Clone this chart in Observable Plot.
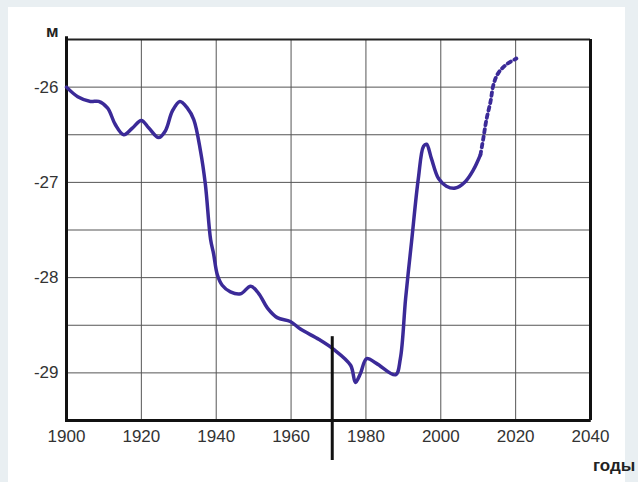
<!DOCTYPE html>
<html>
<head>
<meta charset="utf-8">
<script src="https://cdn.jsdelivr.net/npm/d3@7"></script>
<script src="https://cdn.jsdelivr.net/npm/@observablehq/plot@0.6"></script>
<style>
  html, body { margin: 0; padding: 0; background: #e9eff2; }
  #wrap { position: relative; width: 638px; height: 482px; overflow: hidden; }
  #panel { position: absolute; left: 8px; top: 7px; width: 617px; height: 475px; background: #ffffff; }
  #chart { position: absolute; left: 0; top: 0; }
  .lbl { position: absolute; font-family: "Liberation Sans", Arial, sans-serif; font-weight: bold; font-size: 17px; line-height: 17px; color: #222; white-space: nowrap; }
</style>
</head>
<body>
<div id="wrap">
  <div id="panel"></div>
  <div id="chart"></div>
  <span class="lbl" style="left:46px; top:23px;">м</span>
  <span class="lbl" style="left:593px; top:457px;">годы</span>
</div>
<script>
// Observed level of the sea (m) by year
const years = [1900, 1903, 1906.4, 1908.6, 1911, 1913, 1915.3, 1917.6, 1920, 1922, 1924.6, 1926.4, 1928.3, 1930.3, 1932.3, 1934, 1935.8, 1937.1, 1938.5, 1939.3, 1940.3, 1941.6, 1943.8, 1946.5, 1949.2, 1951.4, 1953.7, 1956.3, 1959.8, 1962.5, 1967.5, 1971.3, 1975.9, 1977.2, 1978.5, 1980.2, 1982.8, 1987.9, 1989.2, 1990.6, 1992.2, 1994, 1995.4, 1996.2, 1997.5, 1999.4, 2001.5, 2003.9, 2006.6, 2008.7, 2010.6];
const levels = [-26.0, -26.1, -26.15, -26.15, -26.22, -26.39, -26.5, -26.43, -26.35, -26.43, -26.53, -26.46, -26.25, -26.15, -26.22, -26.34, -26.67, -27.02, -27.6, -27.75, -27.97, -28.08, -28.15, -28.17, -28.09, -28.17, -28.32, -28.42, -28.46, -28.54, -28.65, -28.75, -28.92, -29.1, -29.01, -28.85, -28.9, -29.02, -28.85, -28.22, -27.62, -26.96, -26.62, -26.6, -26.75, -26.96, -27.04, -27.06, -26.99, -26.87, -26.71];
// Forecast (dotted)
const forecastYears = [2010.6, 2011.4, 2012.2, 2013.3, 2014.1, 2015.4, 2017.6, 2020.2];
const forecastLevels = [-26.71, -26.53, -26.34, -26.15, -25.97, -25.85, -25.76, -25.7];
// Axis ticks
const xTicks = [1900, 1920, 1940, 1960, 1980, 2000, 2020, 2040];
const yTicks = [-26, -27, -28, -29];
const yGrid = [-29, -28.5, -28, -27.5, -27, -26.5, -26];
const markerYear = 1971;

const observed = years.map((y, i) => ({year: y, level: levels[i]}));
const forecast = forecastYears.map((y, i) => ({year: y, level: forecastLevels[i]}));

const lineColor = "#3b2a98";

const chart = Plot.plot({
  width: 638,
  height: 482,
  marginLeft: 66,
  marginRight: 48,
  marginTop: 39,
  marginBottom: 62,
  style: {background: "transparent", fontFamily: "'Liberation Sans', Arial, sans-serif", fontSize: "17px", color: "#333", overflow: "visible"},
  x: {domain: [1900, 2040], ticks: xTicks, tickFormat: d => String(d), tickSize: 0, tickPadding: 9, label: null},
  y: {domain: [-29.5, -25.5], ticks: yTicks, tickFormat: d => String(d), tickSize: 0, tickPadding: 8, label: null},
  marks: [
    Plot.gridX(xTicks.slice(1, -1), {stroke: "#555", strokeOpacity: 1, strokeWidth: 1}),
    Plot.gridY(yGrid, {stroke: "#555", strokeOpacity: 1, strokeWidth: 1}),
    Plot.ruleY([-25.5], {stroke: "#222", strokeWidth: 2}),
    Plot.ruleX([2040], {stroke: "#111", strokeWidth: 3, y1: -29.5, y2: -25.5}),
    Plot.ruleY([-29.5], {stroke: "#111", strokeWidth: 3, x1: 1900, x2: 2040.2}),
    Plot.ruleX([1900], {stroke: "#111", strokeWidth: 3, y1: -29.52, y2: -25.47}),
    Plot.line(observed, {x: "year", y: "level", stroke: lineColor, strokeWidth: 3.5, curve: "catmull-rom"}),
    Plot.line(forecast, {x: "year", y: "level", stroke: lineColor, strokeWidth: 3.8, curve: "catmull-rom", strokeDasharray: "3.5,4"}),
    Plot.ruleX([markerYear], {y1: -28.62, y2: -29.92, stroke: "#111", strokeWidth: 3, clip: false}),
    Plot.axisX({ticks: xTicks, tickFormat: d => String(d), tickSize: 0, tickPadding: 9, fill: "#333", fontSize: 17}),
    Plot.axisY({ticks: yTicks, tickFormat: d => String(d), tickSize: 0, tickPadding: 8, fill: "#333", fontSize: 17})
  ]
});
document.getElementById("chart").appendChild(chart);
</script>
</body>
</html>
